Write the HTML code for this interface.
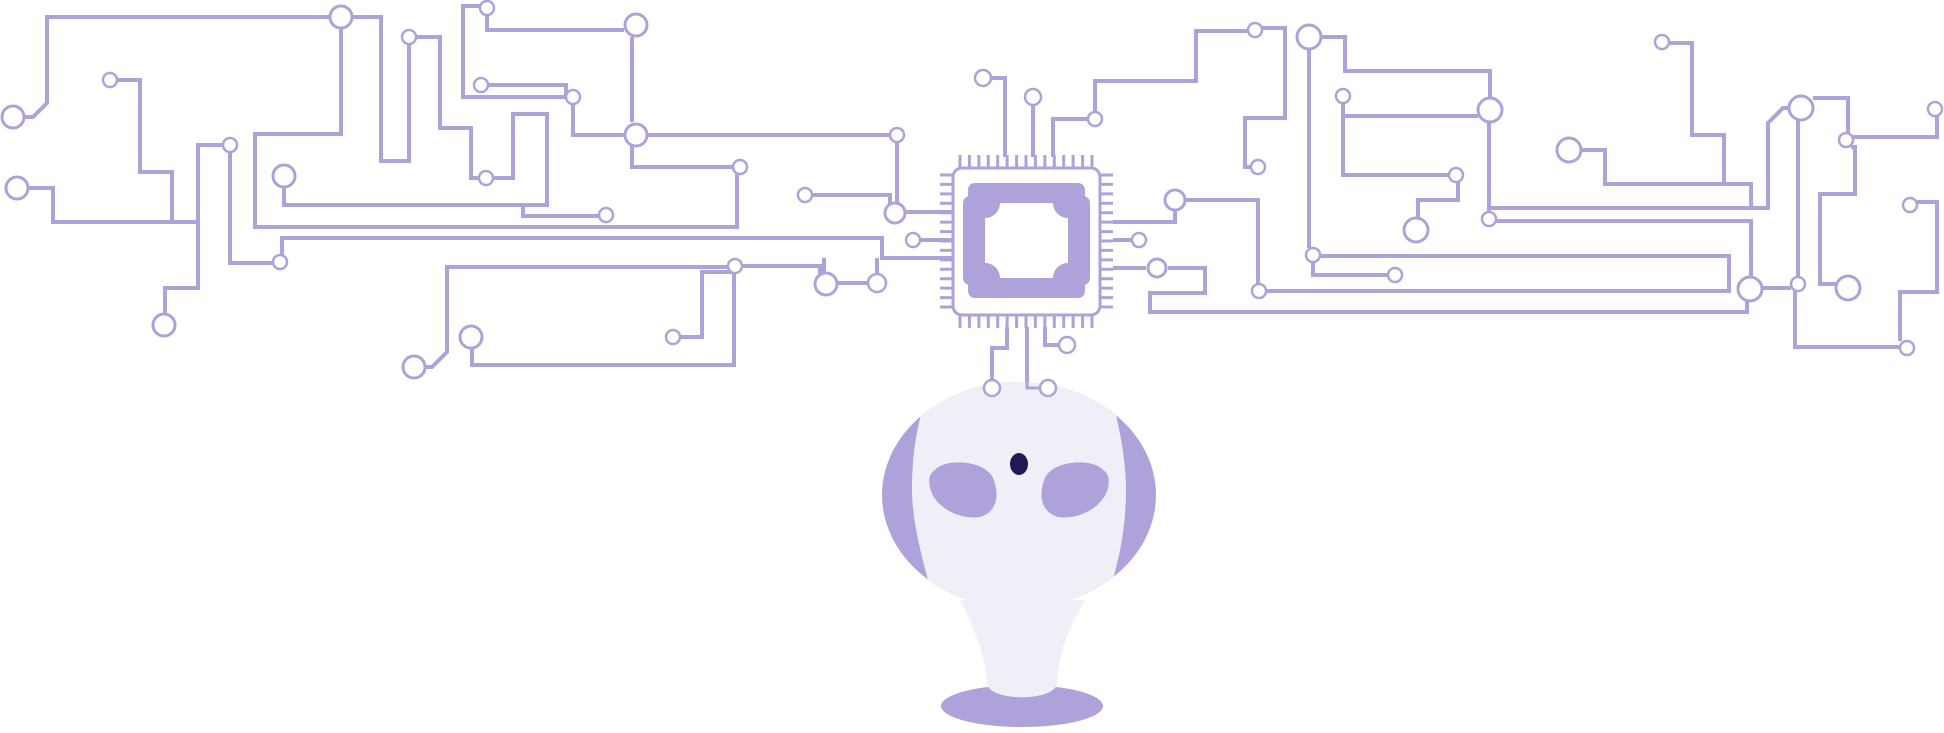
<!DOCTYPE html>
<html><head><meta charset="utf-8"><style>html,body{margin:0;padding:0;background:#fff}svg{display:block}</style></head>
<body>
<svg width="1944" height="733" viewBox="0 0 1944 733" xmlns="http://www.w3.org/2000/svg">
<defs><clipPath id="hc"><ellipse cx="1019" cy="495" rx="137" ry="113"/></clipPath></defs>
<g fill="none" stroke="#afa2db" stroke-width="4" stroke-linejoin="miter">
<polyline points="25,117 33,117 47,103 47,17 330,17"/>
<polyline points="352,17 381,17 381,161 409,161 409,44"/>
<polyline points="417,37 440,37 440,128 471,128 471,178 479,178"/>
<polyline points="493,178 513,178 513,114 547,114 547,205 284,205 284,188"/>
<polyline points="117,80 140,80 140,172 172,172 172,222"/>
<polyline points="29,188 53,188 53,222 198,222"/>
<polyline points="222,145 198,145 198,288 165,288 165,313"/>
<polyline points="230,152 230,263 273,263"/>
<polyline points="341,29 341,134 255,134 255,227 737,227 737,174"/>
<polyline points="282,255 282,238 882,238 882,258 952,258"/>
<polyline points="487,15 487,30 624,30"/>
<polyline points="480,6 463,6 463,97 566,97 566,85 488,85"/>
<polyline points="573,104 573,135 624,135"/>
<polyline points="632,37 632,122"/>
<polyline points="632,145 632,167 733,167"/>
<polyline points="648,135 890,135"/>
<polyline points="897,142 897,203"/>
<polyline points="812,195 890,195 890,204"/>
<polyline points="523,205 523,216 599,216"/>
<polyline points="905,212 952,212"/>
<polyline points="920,240 952,240"/>
<polyline points="824,258 824,273"/>
<polyline points="877,258 877,276"/>
<polyline points="836,283 870,283"/>
<polyline points="426,367 432,367 447,352 447,267 728,267"/>
<polyline points="742,266 820,266 820,274"/>
<polyline points="472,349 472,365 734,365 734,272 702,272 702,337 680,337"/>
<polyline points="990,78 1005,78 1005,157"/>
<polyline points="1033,105 1033,157"/>
<polyline points="1053,157 1053,119 1088,119"/>
<polyline points="1095,112 1095,81 1196,81 1196,31 1248,31"/>
<polyline points="1262,28 1285,28 1285,118 1245,118 1245,167 1251,167"/>
<polyline points="1007,327 1007,348 992,348 992,380"/>
<polyline points="1027,327 1027,388 1040,388"/>
<polyline points="1045,327 1045,345 1059,345"/>
<polyline points="1113,222 1175,222 1175,211"/>
<polyline points="1186,200 1258,200 1258,284"/>
<polyline points="1266,291 1729,291 1729,256 1320,256"/>
<polyline points="1132,240 1113,240"/>
<polyline points="1113,268 1146,268"/>
<polyline points="1168,268 1205,268 1205,293 1150,293 1150,312 1747,312 1747,300"/>
<polyline points="1321,37 1345,37 1345,71 1490,71 1490,98"/>
<polyline points="1309,49 1309,248"/>
<polyline points="1313,262 1313,275 1388,275"/>
<polyline points="1343,103 1343,175 1449,175"/>
<polyline points="1458,182 1458,200 1418,200 1418,218"/>
<polyline points="1343,116 1478,116"/>
<polyline points="1489,122 1489,212"/>
<polyline points="1494,221 1751,221 1751,277"/>
<polyline points="1489,208 1768,208 1768,123 1783,108 1789,108"/>
<polyline points="1669,43 1692,43 1692,135 1724,135 1724,184"/>
<polyline points="1581,150 1605,150 1605,184 1751,184 1751,207"/>
<polyline points="1813,98 1848,98 1848,133"/>
<polyline points="1853,137 1937,137 1937,116"/>
<polyline points="1851,147 1855,147 1855,194 1820,194 1820,284 1836,284"/>
<polyline points="1798,120 1798,277"/>
<polyline points="1762,288 1791,288"/>
<polyline points="1795,291 1795,347 1900,347"/>
<polyline points="1900,341 1900,292 1937,292 1937,202 1917,202"/>
</g>
<!-- chip -->
<g stroke="#afa2db" stroke-width="3" fill="none">
<rect x="953" y="168" width="147" height="147" rx="9" fill="#fff"/>
<path d="M960,155v12M969.4,155v12M978.9,155v12M988.3,155v12M997.7,155v12M1007.1,155v12M1016.6,155v12M1026,155v12M1035.4,155v12M1044.9,155v12M1054.3,155v12M1063.7,155v12M1073.1,155v12M1082.6,155v12M1092,155v12"/>
<path d="M960,316v12M969.4,316v12M978.9,316v12M988.3,316v12M997.7,316v12M1007.1,316v12M1016.6,316v12M1026,316v12M1035.4,316v12M1044.9,316v12M1054.3,316v12M1063.7,316v12M1073.1,316v12M1082.6,316v12M1092,316v12"/>
<path d="M940,175h12M940,184.4h12M940,193.9h12M940,203.3h12M940,212.7h12M940,222.1h12M940,231.6h12M940,241h12M940,250.4h12M940,259.9h12M940,269.3h12M940,278.7h12M940,288.1h12M940,297.6h12M940,307h12"/>
<path d="M1101,175h12M1101,184.4h12M1101,193.9h12M1101,203.3h12M1101,212.7h12M1101,222.1h12M1101,231.6h12M1101,241h12M1101,250.4h12M1101,259.9h12M1101,269.3h12M1101,278.7h12M1101,288.1h12M1101,297.6h12M1101,307h12"/>
</g>
<g fill="#afa2db">
<rect x="968" y="183" width="117" height="115" rx="7"/>
<rect x="963" y="196" width="127" height="89" rx="7"/>
</g>
<rect x="985" y="203" width="83" height="75" fill="#fff"/>
<g fill="#afa2db"><circle cx="985" cy="203" r="15"/><circle cx="1068" cy="203" r="15"/><circle cx="985" cy="278" r="15"/><circle cx="1068" cy="278" r="15"/></g>
<!-- robot -->
<ellipse cx="1022" cy="706" rx="81" ry="21" fill="#afa2db"/>
<ellipse cx="1019" cy="495" rx="137" ry="113" fill="#afa2db"/>
<path clip-path="url(#hc)" fill="#f0eff8" d="M928,360 L1103,360 C1115,410 1126,450 1126,490 C1126,530 1118,565 1108,595 L1110,620 L930,620 L933,597 C922,560 912,520 912,490 C912,450 918,420 928,392 Z"/>
<path fill="#f0eff8" d="M960,600 C975,630 985,655 987,683 C988,702 1056,702 1057,683 C1058,655 1068,630 1085,600 Z"/>
<path fill="#afa2db" d="M935,470 C945,458 985,460 993,478 C1000,495 997,512 980,517 C960,520 935,508 930,488 C928,478 930,473 935,470 Z"/>
<path fill="#afa2db" d="M1103,470 C1093,458 1053,460 1045,478 C1038,495 1041,512 1058,517 C1078,520 1103,508 1108,488 C1110,478 1108,473 1103,470 Z"/>
<ellipse cx="1019" cy="464" rx="9" ry="11" fill="#1f1a55"/>
<!-- connector lines over head -->
<g fill="none" stroke="#afa2db" stroke-width="3"><polyline points="992,348 992,380"/><polyline points="1027,327 1027,388 1040,388"/></g>
<!-- circles -->
<g fill="#fff" stroke="#afa2db" stroke-width="3">
<circle cx="13" cy="117" r="11"/><circle cx="17" cy="188" r="11"/><circle cx="341" cy="17" r="11"/><circle cx="284" cy="176" r="11"/><circle cx="164" cy="325" r="11"/><circle cx="636" cy="25" r="11"/><circle cx="636" cy="135" r="11"/><circle cx="895" cy="213" r="10"/><circle cx="826" cy="284" r="11"/><circle cx="414" cy="367" r="11"/><circle cx="471" cy="337" r="11"/><circle cx="1175" cy="200" r="10"/><circle cx="1157" cy="268" r="9"/><circle cx="1309" cy="37" r="12"/><circle cx="1490" cy="110" r="12"/><circle cx="1416" cy="230" r="12"/><circle cx="1569" cy="150" r="12"/><circle cx="1801" cy="108" r="12"/><circle cx="1848" cy="288" r="12"/><circle cx="1750" cy="289" r="12"/>
</g>
<g fill="#fff" stroke="#afa2db" stroke-width="2.5">
<circle cx="110" cy="80" r="7"/><circle cx="409" cy="37" r="7"/><circle cx="230" cy="145" r="7"/><circle cx="280" cy="262" r="7"/><circle cx="486" cy="178" r="7"/><circle cx="487" cy="8" r="7"/><circle cx="481" cy="85" r="7"/><circle cx="573" cy="97" r="7"/><circle cx="897" cy="135" r="7"/><circle cx="740" cy="167" r="7"/><circle cx="805" cy="195" r="7"/><circle cx="606" cy="215" r="7"/><circle cx="913" cy="240" r="7"/><circle cx="877" cy="283" r="9"/><circle cx="735" cy="266" r="7"/><circle cx="673" cy="337" r="7"/><circle cx="983" cy="78" r="8"/><circle cx="1033" cy="97" r="8"/><circle cx="992" cy="388" r="8"/><circle cx="1048" cy="388" r="8"/><circle cx="1067" cy="345" r="8"/><circle cx="1095" cy="119" r="7"/><circle cx="1255" cy="30" r="7"/><circle cx="1258" cy="167" r="7"/><circle cx="1139" cy="240" r="7"/><circle cx="1259" cy="291" r="7"/><circle cx="1313" cy="255" r="7"/><circle cx="1395" cy="275" r="7"/><circle cx="1343" cy="96" r="7"/><circle cx="1456" cy="175" r="7"/><circle cx="1489" cy="219" r="7"/><circle cx="1662" cy="42" r="7"/><circle cx="1846" cy="140" r="7"/><circle cx="1935" cy="109" r="7"/><circle cx="1798" cy="284" r="7"/><circle cx="1907" cy="348" r="7"/><circle cx="1910" cy="205" r="7"/>
</g>
</svg>
</body></html>
